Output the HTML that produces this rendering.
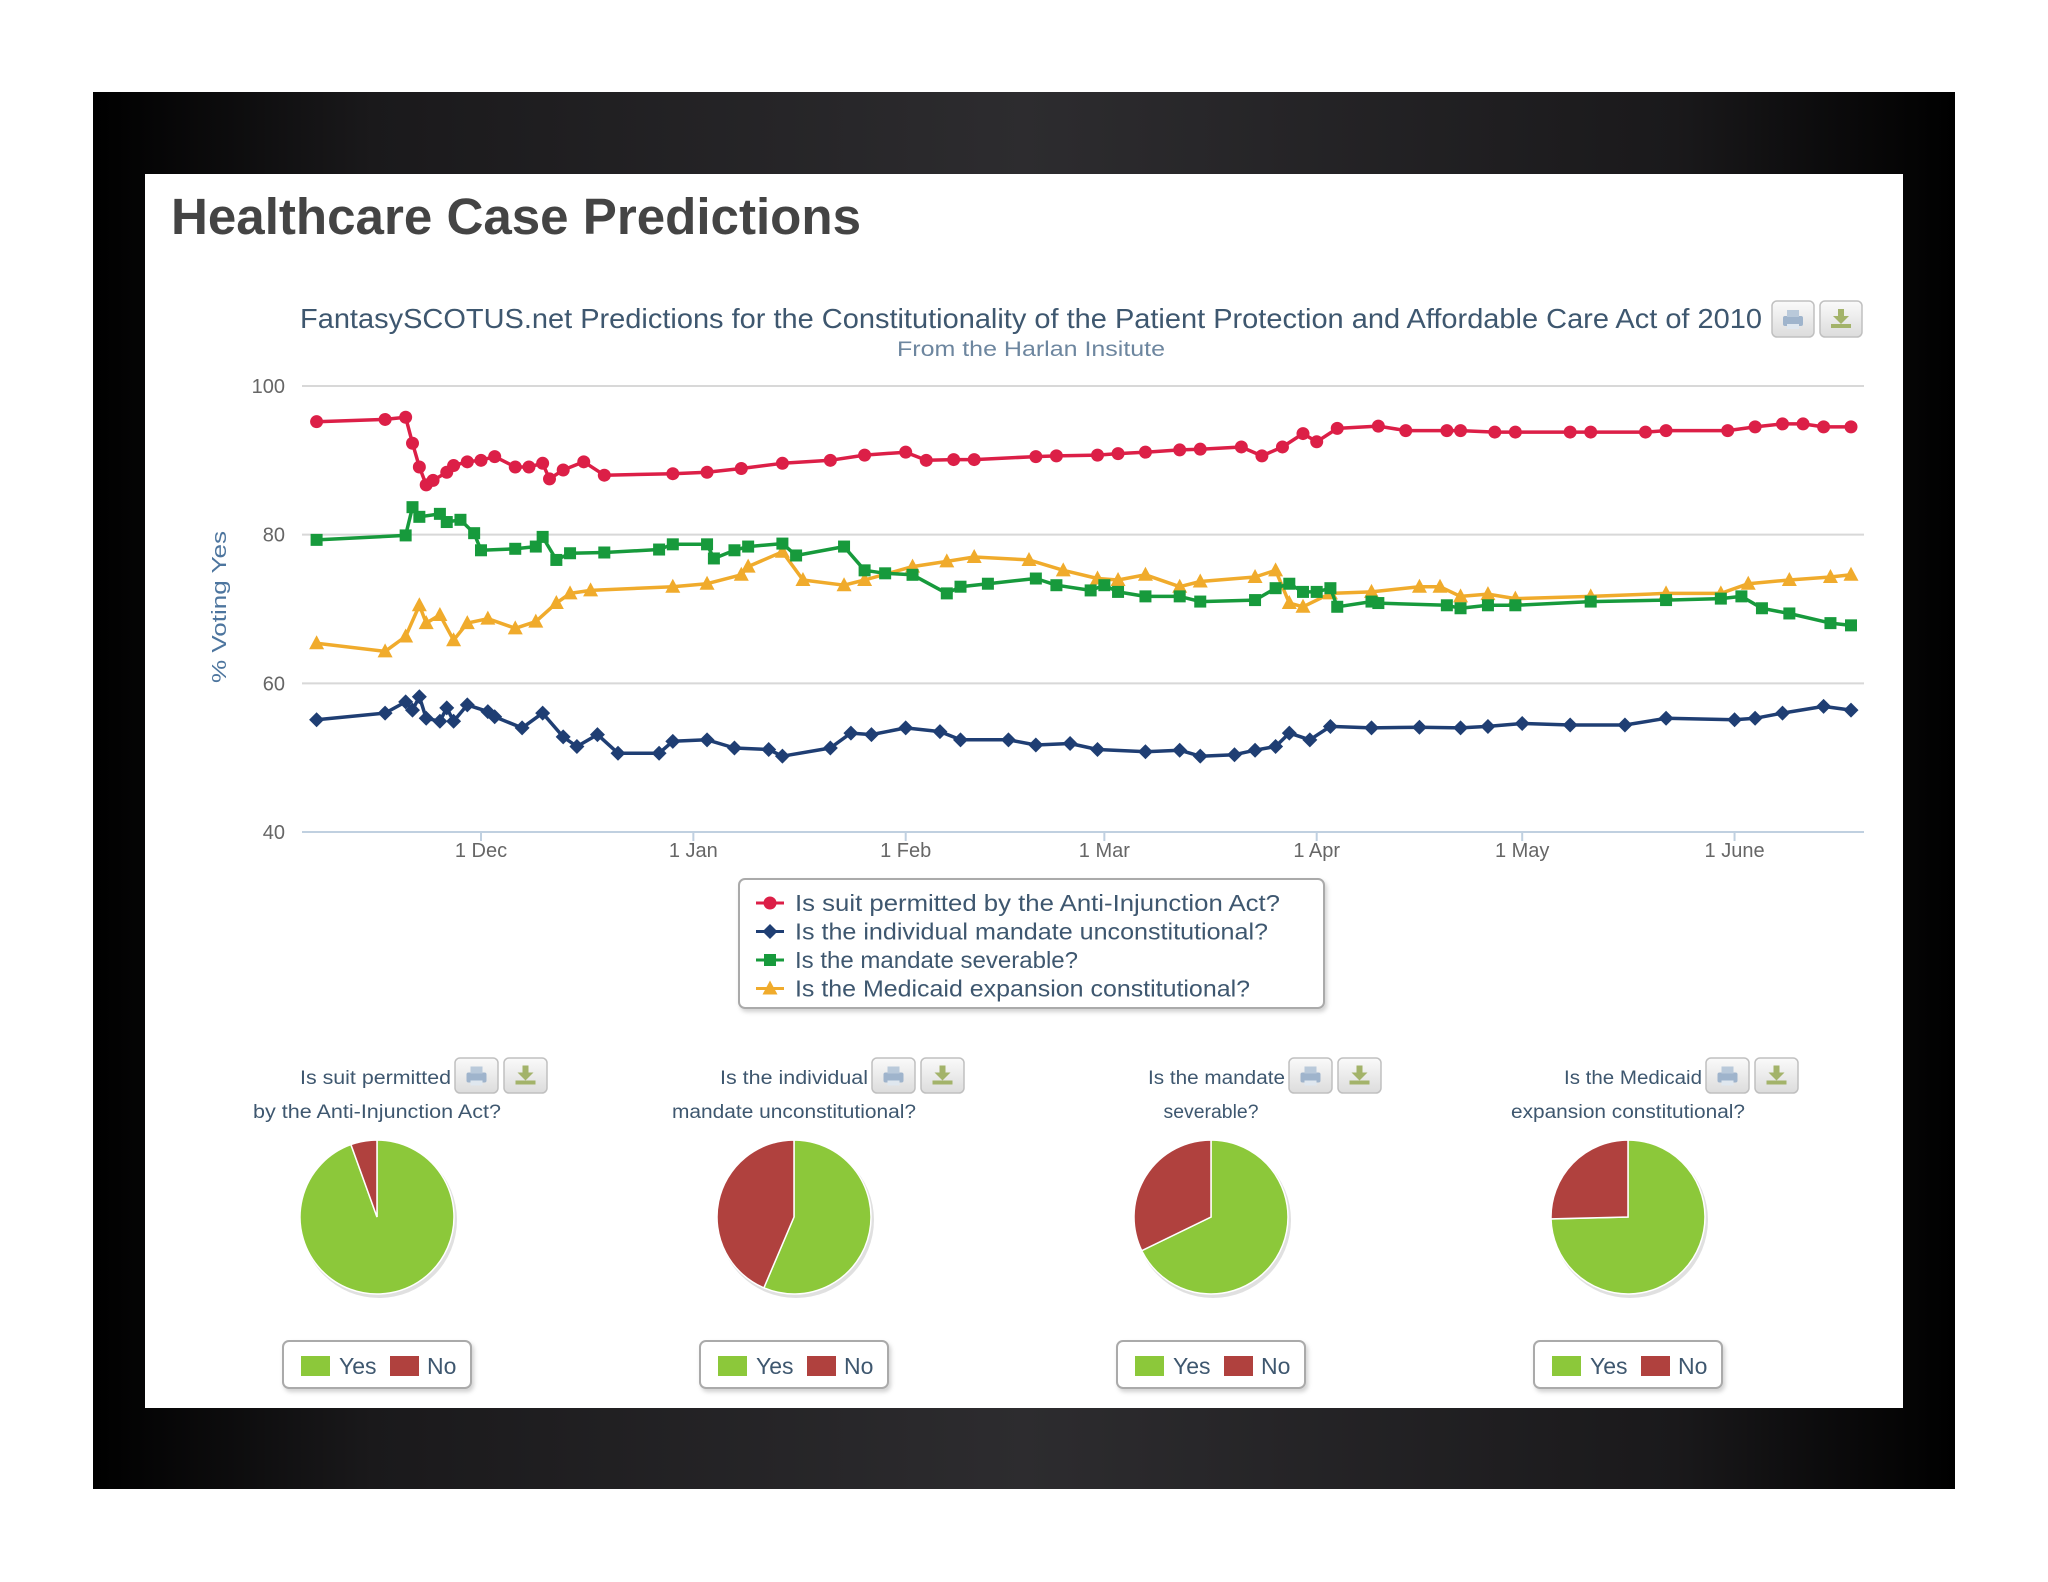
<!DOCTYPE html>
<html><head><meta charset="utf-8">
<style>
html,body{margin:0;padding:0;background:#fff;}
svg{display:block;}
text{font-family:"Liberation Sans","DejaVu Sans",sans-serif;}
</style></head>
<body>
<svg id="root" xmlns="http://www.w3.org/2000/svg" width="2048" height="1582" viewBox="0 0 2048 1582">
<defs>
<linearGradient id="frameGrad" x1="0" y1="0" x2="1" y2="0">
<stop offset="0" stop-color="#000"/><stop offset="0.15" stop-color="#1a191b"/><stop offset="0.5" stop-color="#2d2c2f"/><stop offset="0.85" stop-color="#1a191b"/><stop offset="1" stop-color="#000"/>
</linearGradient>
<linearGradient id="btnGrad" x1="0" y1="0" x2="0" y2="1"><stop offset="0" stop-color="#fafafa"/><stop offset="1" stop-color="#dcdcdc"/></linearGradient>
<filter id="sh" x="-20%" y="-20%" width="140%" height="140%"><feDropShadow dx="2" dy="3" stdDeviation="2" flood-color="#000" flood-opacity="0.18"/></filter>
</defs>
<rect x="93" y="92" width="1862" height="1397" fill="url(#frameGrad)"/>
<rect x="145" y="174" width="1758" height="1234" fill="#fff"/>
<text x="171" y="234" font-size="51" font-weight="bold" fill="#444" textLength="690" lengthAdjust="spacingAndGlyphs">Healthcare Case Predictions</text>
<text x="300" y="328" font-size="28" fill="#3e576f" textLength="1462" lengthAdjust="spacingAndGlyphs">FantasySCOTUS.net Predictions for the Constitutionality of the Patient Protection and Affordable Care Act of 2010</text>
<text x="1031" y="356" font-size="21" fill="#6d869f" text-anchor="middle" textLength="268" lengthAdjust="spacingAndGlyphs">From the Harlan Insitute</text>
<g id="mainBtns"></g>
<g id="grid"></g>
<text transform="translate(226,607) rotate(-90)" font-size="20" fill="#4d759e" text-anchor="middle" textLength="152" lengthAdjust="spacingAndGlyphs">% Voting Yes</text>
<g id="series"></g>
<g>
<rect x="739" y="879" width="585" height="129" rx="6" fill="#fff" stroke="#aaa" stroke-width="2" filter="url(#sh)"/>
<g id="legendItems"></g>
</g>
<g id="pies"></g>
</svg>
<script>
// ---- main chart data (days from 1 Dec 2011) ----
const tickLabels = ["1 Dec","1 Jan","1 Feb","1 Mar","1 Apr","1 May","1 June"];
const tickDays = [0,31,62,91,122,152,183];
const yTicks = [40,60,80,100];

const redDays = [-24,-14,-11,-10,-9,-8,-7,-5,-4,-2,0,2,5,7,9,10,12,15,18,28,33,38,44,51,56,62,65,69,72,81,84,90,93,97,102,105,111,114,117,120,122,125,131,135,141,143,148,151,159,162,170,173,182,186,190,193,196,200];
const redVals = [95.2,95.5,95.8,92.3,89.1,86.7,87.3,88.4,89.3,89.8,90,90.5,89.1,89.1,89.6,87.5,88.7,89.8,88,88.2,88.4,88.9,89.6,90,90.7,91.1,90,90.1,90.1,90.5,90.6,90.7,90.9,91.1,91.4,91.5,91.8,90.6,91.8,93.6,92.5,94.3,94.6,94,94,94,93.8,93.8,93.8,93.8,93.8,94,94,94.5,94.9,94.9,94.5,94.5];

const blueDays = [-24,-14,-11,-10,-9,-8,-6,-5,-4,-2,1,2,6,9,12,14,17,20,26,28,33,37,42,44,51,54,57,62,67,70,77,81,86,90,97,102,105,110,113,116,118,121,124,130,137,143,147,152,159,167,173,183,186,190,196,200];
const blueVals = [55.1,56,57.5,56.4,58.2,55.3,54.9,56.7,54.9,57.1,56.2,55.5,54,56,52.8,51.5,53.1,50.6,50.6,52.2,52.4,51.3,51.1,50.2,51.3,53.3,53.1,54,53.5,52.4,52.4,51.7,51.9,51.1,50.8,51,50.2,50.4,51,51.5,53.3,52.4,54.2,54,54.1,54,54.2,54.6,54.4,54.4,55.3,55.1,55.3,56,56.9,56.4];

const greenDays = [-24,-11,-10,-9,-6,-5,-3,-1,0,5,8,9,11,13,18,26,28,33,34,37,39,44,46,53,56,59,63,68,70,74,81,84,89,91,93,97,102,105,113,116,118,120,122,124,125,130,131,141,143,147,151,162,173,181,184,187,191,197,200];
const greenVals = [79.3,79.9,83.7,82.4,82.8,81.7,82,80.2,77.9,78.1,78.4,79.7,76.6,77.5,77.6,78,78.7,78.7,76.8,77.9,78.4,78.8,77.2,78.4,75.2,74.8,74.6,72.1,73,73.4,74.1,73.2,72.5,73.2,72.3,71.7,71.7,71,71.2,72.8,73.4,72.3,72.3,72.8,70.3,71,70.8,70.5,70.1,70.5,70.5,71,71.2,71.4,71.7,70.1,69.4,68.1,67.8];

const yellowDays = [-24,-14,-11,-9,-8,-6,-4,-2,1,5,8,11,13,16,28,33,38,39,44,47,53,56,63,68,72,80,85,90,93,97,102,105,113,116,118,120,124,130,137,140,143,147,151,162,173,181,185,191,197,200];
const yellowVals = [65.4,64.3,66.3,70.5,68.1,69.2,65.8,68.1,68.7,67.4,68.3,70.8,72.1,72.5,73,73.4,74.6,75.7,77.7,73.9,73.2,73.9,75.7,76.4,77,76.6,75.2,74.1,73.9,74.6,73,73.7,74.3,75.2,70.8,70.3,72.1,72.3,73,73,71.7,72,71.4,71.7,72.1,72.1,73.4,73.9,74.3,74.6];

const seriesNames = ["Is suit permitted by the Anti-Injunction Act?","Is the individual mandate unconstitutional?","Is the mandate severable?","Is the Medicaid expansion constitutional?"];
const legendTextLen = [485,473,283,455];

// ---- pie data (% yes) ----
const pieYes = [94.5, 56.4, 67.8, 74.6];
const pieTitle1 = ["Is suit permitted","Is the individual","Is the mandate","Is the Medicaid"];
const pieTitle2 = ["by the Anti-Injunction Act?","mandate unconstitutional?","severable?","expansion constitutional?"];
const pieT1Len = [151,148,137,138];
const pieT2Len = [248,244,95,234];

const NS = "http://www.w3.org/2000/svg";
function mk(tag, attrs, parent){ const e=document.createElementNS(NS,tag); for(const k in attrs) e.setAttribute(k,attrs[k]); parent.appendChild(e); return e; }
const xS = d => 481 + d*6.85;
const yS = v => 832 - (v-40)*(446/60);

const grid = document.getElementById('grid');
yTicks.forEach(t=>{
  const l = mk('line',{x1:302,x2:1864,y1:yS(t),y2:yS(t),stroke:t===40?'#c0d0e0':'#d8d8d8','stroke-width':2},grid);
  
  
  const tx = mk('text',{x:285,y:yS(t)+7,'font-size':20,fill:'#666','text-anchor':'end'},grid);
  tx.textContent = t;
  
  
});
tickDays.forEach((d,i)=>{
  const l = mk('line',{x1:xS(d),x2:xS(d),y1:832,y2:841,stroke:'#c0d0e0','stroke-width':2},grid);
  
  
  const tx = mk('text',{x:xS(d),y:857,'font-size':20,fill:'#666','text-anchor':'middle'},grid);
  tx.textContent = tickLabels[i];
  
  
});

function marker(shape,x,y,color,parent){
  let m;
  if(shape==='circle') m = mk('circle',{cx:x,cy:y,r:6.5,fill:color},parent);
  else if(shape==='diamond') m = mk('path',{d:`M${x},${y-7.5}L${x+7.5},${y}L${x},${y+7.5}L${x-7.5},${y}Z`,fill:color},parent);
  else if(shape==='square') m = mk('rect',{x:x-6,y:y-6,width:12,height:12,fill:color},parent);
  else m = mk('path',{d:`M${x},${y-8}L${x+7.5},${y+6}L${x-7.5},${y+6}Z`,fill:color},parent);
  return m;
}
const seriesDefs = [
  {days:redDays,vals:redVals,color:'#dc1f47',shape:'circle',name:'series-anti-injunction'},
  {days:blueDays,vals:blueVals,color:'#1f3e73',shape:'diamond',name:'series-individual-mandate'},
  {days:greenDays,vals:greenVals,color:'#179a3c',shape:'square',name:'series-severable'},
  {days:yellowDays,vals:yellowVals,color:'#f0ab2c',shape:'triangle',name:'series-medicaid'}
];
const sg = document.getElementById('series');
[1,3,2,0].forEach(i=>{
  const s = seriesDefs[i];
  const g = mk('g',{},sg);
  
  
  const pts = s.days.map((d,j)=>xS(d).toFixed(1)+','+yS(s.vals[j]).toFixed(1)).join(' ');
  const pl = mk('polyline',{points:pts,fill:'none',stroke:s.color,'stroke-width':3.5,'stroke-linejoin':'round'},g);
  
  
  s.days.forEach((d,j)=>{
    const m = marker(s.shape,xS(d),yS(s.vals[j]),s.color,g);
    
    
  });
});

const lg = document.getElementById('legendItems');
seriesNames.forEach((n,i)=>{
  const y = 903 + i*28.5;
  const g = mk('g',{},lg);
  
  
  mk('line',{x1:756,x2:784,y1:y,y2:y,stroke:seriesDefs[i].color,'stroke-width':3},g);
  marker(seriesDefs[i].shape,770,y,seriesDefs[i].color,g);
  const t = mk('text',{x:795,y:y+8,'font-size':23,fill:'#3e576f',textLength:legendTextLen[i],lengthAdjust:'spacingAndGlyphs'},g);
  t.textContent = n;
});

function exportButtons(parent,x,y,w,h,gap,prefix){
  [0,1].forEach(k=>{
    const bx = x + k*(w+gap);
    const b = mk('g',{},parent);
    
    
    mk('rect',{x:bx,y:y,width:w,height:h,rx:5,fill:'url(#btnGrad)',stroke:'#c0c0c0','stroke-width':1.5},b);
    const cx = bx+w/2, cy = y+h/2;
    if(k===0){
      mk('rect',{x:cx-10,y:cy-3,width:20,height:10,rx:2,fill:'#9fb4cc'},b);
      mk('rect',{x:cx-6,y:cy-9,width:12,height:7,fill:'#b9c9da'},b);
      mk('rect',{x:cx-6,y:cy+5,width:12,height:5,fill:'#dfe7ef'},b);
    } else {
      mk('rect',{x:cx-10,y:cy+5,width:20,height:4,fill:'#a3b36a'},b);
      mk('path',{d:`M${cx-3},${cy-10}h6v7h5l-8,8l-8,-8h5z`,fill:'#a3b36a'},b);
    }
  });
}
exportButtons(document.getElementById('mainBtns'),1772,301,42,36,6,'chart-');

const pg = document.getElementById('pies');
const pieCx = [377,794,1211,1628];
const pieCy = 1217, R = 77;
pieYes.forEach((yes,i)=>{
  const cx = pieCx[i];
  const g = mk('g',{},pg);
  
  
  const t1 = mk('text',{x:cx+74-pieT1Len[i],y:1084,'font-size':19,fill:'#3e576f',textLength:pieT1Len[i],lengthAdjust:'spacingAndGlyphs'},g);
  t1.textContent = pieTitle1[i];
  
  
  const t2 = mk('text',{x:cx-pieT2Len[i]/2,y:1118,'font-size':19,fill:'#3e576f',textLength:pieT2Len[i],lengthAdjust:'spacingAndGlyphs'},g);
  t2.textContent = pieTitle2[i];
  
  
  exportButtons(g,cx+78,1058,43,35,6,'pie-'+(i+1)+'-');
  const a = yes/100*2*Math.PI;
  const ex = cx + R*Math.sin(a), ey = pieCy - R*Math.cos(a);
  const large = yes>50?1:0;
  mk('circle',{cx:cx+2,cy:pieCy+3,r:R+1,fill:'#000',opacity:0.12},g);
  const ys = mk('path',{d:`M${cx},${pieCy}L${cx},${pieCy-R}A${R},${R} 0 ${large} 1 ${ex},${ey}Z`,fill:'#8cc83a',stroke:'#fff','stroke-width':1.5},g);
  
  
  const ns = mk('path',{d:`M${cx},${pieCy}L${ex},${ey}A${R},${R} 0 ${1-large} 1 ${cx},${pieCy-R}Z`,fill:'#b0413e',stroke:'#fff','stroke-width':1.5},g);
  
  
  const lgp = mk('g',{},g);
  
  
  mk('rect',{x:cx-94,y:1341,width:188,height:47,rx:6,fill:'#fff',stroke:'#aaa','stroke-width':2,filter:'url(#sh)'},lgp);
  mk('rect',{x:cx-76,y:1356,width:29,height:20,fill:'#8cc83a'},lgp);
  const ty = mk('text',{x:cx-38,y:1374,'font-size':23,fill:'#3e576f'},lgp);
  ty.textContent = 'Yes';
  mk('rect',{x:cx+13,y:1356,width:29,height:20,fill:'#b0413e'},lgp);
  const tn = mk('text',{x:cx+50,y:1374,'font-size':23,fill:'#3e576f'},lgp);
  tn.textContent = 'No';
});
</script>
</body></html>
